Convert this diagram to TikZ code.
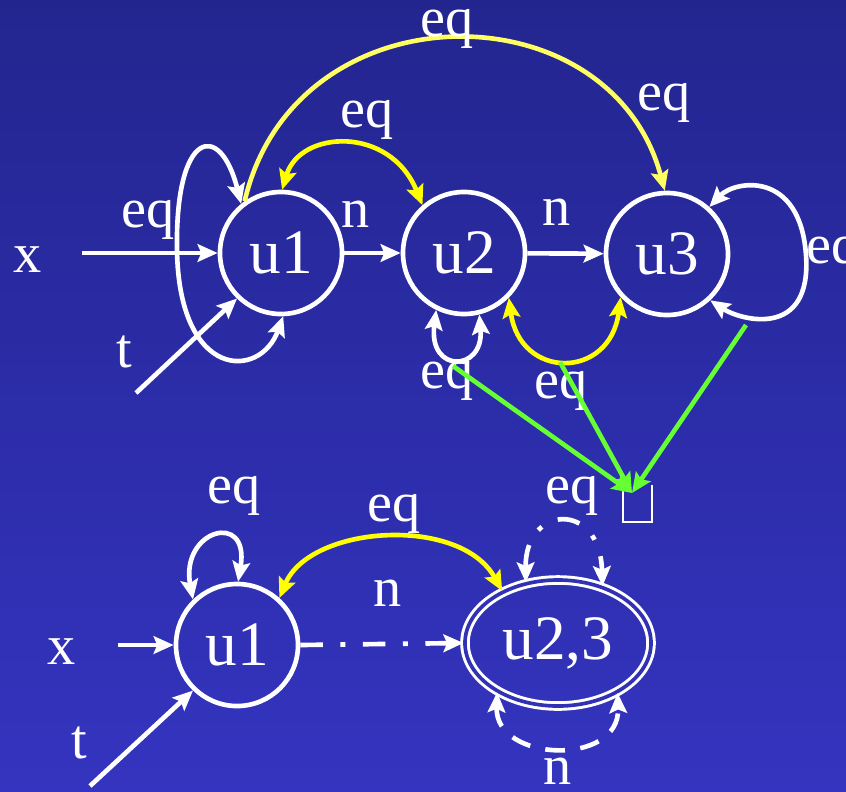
\documentclass[tikz,border=0pt]{standalone}
\usepackage{fontspec}
\setmainfont{Liberation Serif}
\usetikzlibrary{arrows.meta, shapes.geometric}
\definecolor{bgtop}{RGB}{35,37,143}
\definecolor{bgbot}{RGB}{52,52,192}
\definecolor{bgmid}{RGB}{49,49,182}
\definecolor{eqyellow}{RGB}{255,255,0}
\definecolor{paleyellow}{RGB}{255,255,100}
\definecolor{eqgreen}{RGB}{102,255,51}
\tikzset{
  >={Stealth[length=5mm, width=4.4mm, inset=0.9mm]},
  state/.style={circle, draw=white, line width=3.3pt, minimum size=3.05cm, inner sep=0pt, text=white, font=\fontsize{45}{50}\selectfont},
  merged/.style={ellipse, draw=white, double=bgmid, line width=2.1pt, double distance=2.6pt, minimum width=4.65cm, minimum height=3.15cm, inner sep=0pt, text=white, font=\fontsize{45}{50}\selectfont},
  lbl/.style={anchor=base, inner sep=0pt, text=white, font=\fontsize{40}{44}\selectfont},
  arrow/.style={->, line width=3.3pt, white},
  twoway/.style={<->, line width=3.3pt, white},
  dashdot/.style={dash pattern=on 16pt off 12.5pt on 3.5pt off 12.5pt},
  dashloop/.style={dash pattern=on 14pt off 11pt}
}
\begin{document}
\begin{tikzpicture}[x=0.025cm, y=-0.025cm]
  \useasboundingbox (0,0) rectangle (846,791);
  \clip (0,0) rectangle (846,791);
  \fill[top color=bgtop, bottom color=bgbot] (0,0) rectangle (846,791);

  % upper automaton
  \node[state] (u1) at (281,253) {u1};
  \node[state] (u2) at (464,253) {u2};
  \node[state] (u3) at (667,254) {u3};
  \coordinate (xin) at (82,253);
  \coordinate (tin) at (136,393);
  \node[lbl] (x1) at (28,272) {x};
  \node[lbl] (t1) at (124,367) {t};

  \draw[arrow] (xin) -- (u1);
  \draw[arrow] (tin) -- (u1.226);
  \draw[arrow] (u1) -- (u2);
  \draw[arrow] (u2) -- (u3);
  \draw[twoway] (u1.129) .. controls (220,120) and (175,130) .. (177,250)
                         .. controls (179,380) and (260,380) .. (u1.272);
  \draw[twoway] (u2.244) .. controls (428,374) and (484,372) .. (u2.284);
  \draw[twoway] (u3.48) .. controls (735,180) and (800,170) .. (806,255)
                        .. controls (812,340) and (740,320) .. (u3.-47);
  \draw[arrow, paleyellow] (u1.125) .. controls (295,-14) and (610,-14) .. (u3.92);
  \draw[twoway, eqyellow] (u1.89) .. controls (300,130) and (390,125) .. (u2.131);
  \draw[twoway, eqyellow] (u2.-45) .. controls (520,380) and (610,380) .. (u3.223);

  \node[lbl] (l1) at (447,36) {eq};
  \node[lbl] (l2) at (664,110) {eq};
  \node[lbl] (l3) at (367,127) {eq};
  \node[lbl] (l4) at (148,227) {eq};
  \node[lbl] (l5) at (356,227) {n};
  \node[lbl] (l6) at (557,225) {n};
  \node[lbl, anchor=base west] (l7) at (806,263) {eq};
  \node[lbl] (l8) at (447,388) {eq};
  \node[lbl] (l9) at (561,398) {eq};

  % merge marks
  \node[minimum width=0.7cm, minimum height=0.9cm, inner sep=0pt] (bx) at (637.5,503.5) {};
  \draw[white, line width=1.4pt] (bx.north west) |- (bx.south east) -- (bx.north east);
  \coordinate (gtip) at (632,493);
  \coordinate (g1) at (453,366);
  \coordinate (g2) at (560,362);
  \coordinate (g3) at (746,325);
  \foreach \g in {g1,g2,g3}
    \draw[arrow, eqgreen] (\g) -- (gtip);
  \node[lbl] (l10) at (572,503) {eq};

  % lower automaton
  \node[state] (v1) at (237,645) {u1};
  \node[merged] (v23) at (558,643) {u2,3};
  \coordinate (xin2) at (118,645);
  \coordinate (tin2) at (90,786);
  \node[lbl] (x2) at (62,664) {x};
  \node[lbl] (t2) at (79,758) {t};

  \draw[arrow] (xin2) -- (v1);
  \draw[arrow] (tin2) -- (v1.226);
  \draw[arrow, dashdot] (v1.east) -- (v23.west);
  \draw[twoway] (v1.134) .. controls (180,530) and (250,510) .. (v1.89);
  \draw[twoway, eqyellow] (v1.48) .. controls (310,525) and (460,515) .. (v23.137);
  \draw[twoway, dashdot] (v23.118) .. controls (525,505) and (600,500) .. (v23.52);
  \draw[twoway, dashloop] (v23.219) .. controls (495,762) and (620,767) .. (v23.320);

  \node[lbl] (l11) at (234,503) {eq};
  \node[lbl] (l12) at (394,521) {eq};
  \node[lbl] (l13) at (388,606) {n};
  \node[lbl] (l14) at (558,784) {n};
\end{tikzpicture}
\end{document}
